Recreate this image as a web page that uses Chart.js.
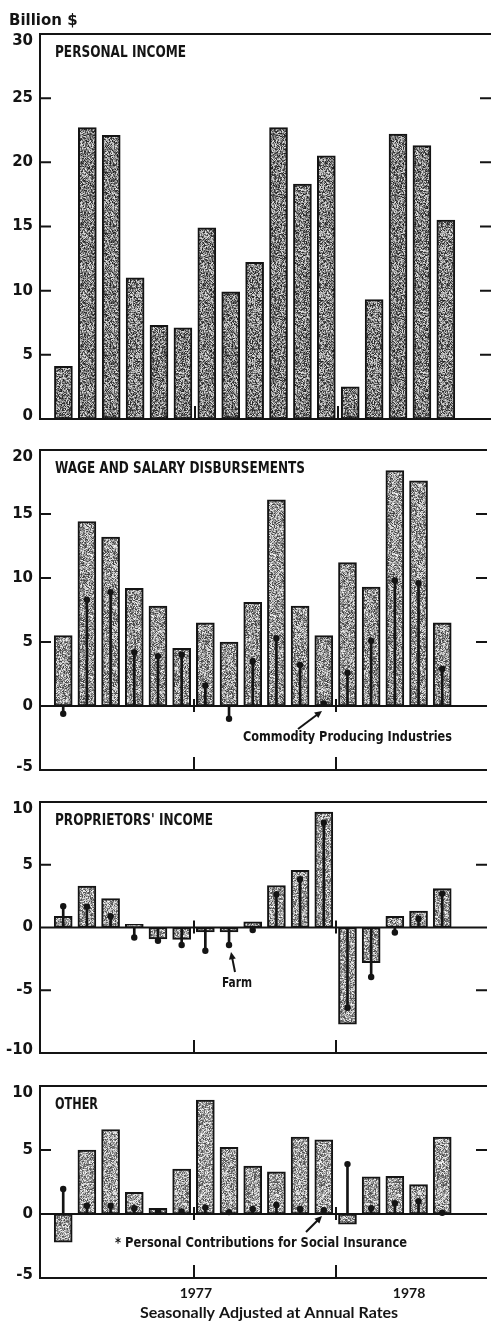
<!DOCTYPE html>
<html>
<head>
<meta charset="utf-8">
<script src="https://cdn.jsdelivr.net/npm/chart.js@4.4.1/dist/chart.umd.min.js"></script>
<style>
  html, body { margin: 0; padding: 0; background: #fff; }
  body { width: 491px; height: 1323px; position: relative; overflow: hidden; }
  canvas { position: absolute; left: 0; }
</style>
</head>
<body>
<canvas id="pi" width="491" height="430" style="top:0px"></canvas>
<canvas id="ws" width="491" height="350" style="top:430px"></canvas>
<canvas id="pr" width="491" height="283" style="top:780px"></canvas>
<canvas id="ot" width="491" height="260" style="top:1063px"></canvas>
<script>
// ---------- DATA (billion $, seasonally adjusted at annual rates) ----------
const personalIncome = [4.1, 22.7, 22.1, 11.0, 7.3, 7.1, 14.9, 9.9, 12.2, 22.7, 18.3, 20.5, 2.5, 9.3, 22.2, 21.3, 15.5];
const wageSalary = [5.5, 14.4, 13.2, 9.2, 7.8, 4.5, 6.5, 5.0, 8.1, 16.1, 7.8, 5.5, 11.2, 9.3, 18.4, 17.6, 6.5];
const commodityProducing = [-0.6, 8.3, 8.9, 4.2, 3.9, 4.0, 1.6, -1.0, 3.5, 5.3, 3.2, 0.2, 2.6, 5.1, 9.8, 9.6, 2.9];
const proprietorsIncome = [0.9, 3.3, 2.3, 0.25, -0.9, -0.95, -0.35, -0.35, 0.45, 3.35, 4.55, 9.2, -7.7, -2.8, 0.9, 1.3, 3.1];
const farm = [1.7, 1.65, 0.9, -0.8, -1.05, -1.4, -1.85, -1.4, -0.2, 2.65, 3.85, 8.35, -6.4, -3.95, -0.4, 0.7, 2.7];
const otherIncome = [-2.2, 5.0, 6.6, 1.7, 0.45, 3.5, 8.9, 5.2, 3.75, 3.3, 6.0, 5.8, -0.8, 2.9, 2.95, 2.3, 6.0];
const socialInsurance = [1.95, 0.65, 0.65, 0.45, 0.2, 0.2, 0.5, 0.15, 0.4, 0.7, 0.4, 0.3, 3.9, 0.45, 0.85, 1.0, 0.1];

const yearLabels = ['1977', '1978'];
const yearBreaks = [5.5, 11.5];      // period index where the year tick sits
const yearLabelAt = [5.6, 14.6];     // period index under which the year is printed

const X_MIN = -0.98;
const X_MAX = 17.89;
const INK = '#141414';
const NARROW = '"Liberation Sans Narrow", "DejaVu Sans Condensed", "DejaVu Sans", sans-serif';

// ---------- stipple texture for the bars ----------
function grain(mean, spread, seed) {
	const c = document.createElement('canvas');
	c.width = 61;
	c.height = 61;
	const g = c.getContext('2d');
	const img = g.createImageData(61, 61);
	let s = seed >>> 0;
	for (let i = 0; i < img.data.length; i += 4) {
		s = (Math.imul(s, 1103515245) + 12345) >>> 0;
		const r = ((s >>> 16) & 255) / 255 - 0.5;
		const v = Math.max(0, Math.min(255, mean + r * spread));
		img.data[i] = img.data[i + 1] = img.data[i + 2] = v;
		img.data[i + 3] = 255;
	}
	g.putImageData(img, 0, 0);
	return g.createPattern(c, 'repeat');
}

const toPoints = (arr) => arr.map((v, i) => ({ x: i, y: v }));

function arrow(ctx, x1, y1, x2, y2) {
	const ang = Math.atan2(y2 - y1, x2 - x1);
	ctx.beginPath();
	ctx.moveTo(x1, y1);
	ctx.lineTo(x2 - Math.cos(ang) * 5, y2 - Math.sin(ang) * 5);
	ctx.stroke();
	ctx.beginPath();
	ctx.moveTo(x2, y2);
	ctx.lineTo(x2 - Math.cos(ang - 0.45) * 8, y2 - Math.sin(ang - 0.45) * 8);
	ctx.lineTo(x2 - Math.cos(ang + 0.45) * 8, y2 - Math.sin(ang + 0.45) * 8);
	ctx.closePath();
	ctx.fill();
}

// ---------- frame, ticks, labels drawn around each panel ----------
function decor(p) {
	return {
		id: 'panelDecor',
		afterDatasetsDraw(chart) {
			const { ctx, chartArea: a, scales } = chart;
			const x = scales.x;
			const y = scales.y;
			const y0 = y.getPixelForValue(0);

			ctx.save();
			ctx.strokeStyle = INK;
			ctx.fillStyle = INK;
			ctx.lineWidth = 2;

			// frame: top, left, bottom and zero line
			ctx.beginPath();
			ctx.moveTo(a.left, a.top);
			ctx.lineTo(a.right, a.top);
			ctx.moveTo(a.left, a.top - 1);
			ctx.lineTo(a.left, a.bottom + 1);
			ctx.moveTo(a.left, a.bottom);
			ctx.lineTo(a.right, a.bottom);
			ctx.moveTo(a.left, y0);
			ctx.lineTo(a.right, y0);
			ctx.stroke();

			// y ticks (inside, both sides) and labels
			ctx.font = 'bold 15px "DejaVu Sans", sans-serif';
			ctx.textAlign = 'right';
			ctx.textBaseline = 'middle';
			for (let v = p.min; v <= p.max; v += 5) {
				const py = y.getPixelForValue(v);
				if (v !== p.min && v !== p.max && v !== 0) {
					ctx.beginPath();
					ctx.moveTo(a.left, py);
					ctx.lineTo(a.left + 11, py);
					ctx.moveTo(a.right - 11, py);
					ctx.lineTo(a.right, py);
					ctx.stroke();
				}
				let dy = 0;
				if (v === p.max) dy = 7;
				else if (v === p.min) dy = -3;
				ctx.fillText(v < 0 ? '-' + Math.abs(v) : String(v), 33, py + dy);
			}

			// year ticks on the zero line and the bottom edge
			yearBreaks.forEach((b) => {
				const px = Math.round(x.getPixelForValue(b));
				ctx.beginPath();
				if (p.min < 0) {
					ctx.moveTo(px, y0 - 7);
					ctx.lineTo(px, y0 + 6);
				}
				ctx.moveTo(px, a.bottom);
				ctx.lineTo(px, a.bottom - 13);
				ctx.stroke();
			});

			// panel title
			ctx.textAlign = 'left';
			ctx.font = 'bold 15px ' + NARROW;
			ctx.fillText(p.title, a.left + 15, a.top + 19, p.titleWidth);

			if (p.extra) p.extra(ctx, a, x, y);
			ctx.restore();
		},
	};
}

function makePanel(id, p) {
	const datasets = [
		{
			type: 'bar',
			data: toPoints(p.bars),
			backgroundColor: p.fill,
			borderColor: INK,
			borderWidth: 2,
			borderSkipped: false,
			barThickness: 18,
			grouped: false,
			order: 2,
		},
	];
	if (p.marks) {
		datasets.push({
			type: 'bar',
			data: toPoints(p.marks),
			backgroundColor: INK,
			borderWidth: 0,
			barThickness: 2,
			grouped: false,
			order: 1,
		});
		datasets.push({
			type: 'line',
			data: toPoints(p.marks),
			showLine: false,
			pointRadius: 3.2,
			pointBackgroundColor: INK,
			pointBorderWidth: 0,
			order: 0,
		});
	}
	new Chart(document.getElementById(id), {
		type: 'bar',
		data: { datasets },
		options: {
			responsive: false,
			animation: false,
			layout: { padding: p.padding },
			scales: {
				x: { type: 'linear', min: X_MIN, max: X_MAX, offset: false, display: false },
				y: { min: p.min, max: p.max, display: false },
			},
			plugins: { legend: { display: false }, tooltip: { enabled: false } },
		},
		plugins: [decor(p)],
	});
}

// ---------- PANELS ----------
makePanel('pi', {
	title: 'PERSONAL INCOME',
	titleWidth: 131,
	bars: personalIncome,
	fill: grain(128, 200, 7),
	min: 0,
	max: 30,
	padding: { top: 34, bottom: 11, left: 40, right: 0 },
	extra(ctx) {
		ctx.font = 'bold 15px "DejaVu Sans", sans-serif';
		ctx.textAlign = 'left';
		ctx.fillText('Billion $', 9, 21);
	},
});

makePanel('ws', {
	title: 'WAGE AND SALARY DISBURSEMENTS',
	titleWidth: 250,
	bars: wageSalary,
	marks: commodityProducing,
	fill: grain(150, 190, 11),
	min: -5,
	max: 20,
	padding: { top: 20, bottom: 10, left: 40, right: 0 },
	extra(ctx) {
		ctx.font = 'bold 14px ' + NARROW;
		ctx.textAlign = 'left';
		ctx.fillText('Commodity Producing Industries', 243, 307, 209);
		ctx.lineWidth = 2;
		arrow(ctx, 298, 299, 322, 281);
	},
});

makePanel('pr', {
	title: "PROPRIETORS' INCOME",
	titleWidth: 158,
	bars: proprietorsIncome,
	marks: farm,
	fill: grain(160, 180, 23),
	min: -10,
	max: 10,
	padding: { top: 22, bottom: 10, left: 40, right: 0 },
	extra(ctx) {
		ctx.font = 'bold 14px ' + NARROW;
		ctx.textAlign = 'center';
		ctx.fillText('Farm', 237, 203, 30);
		ctx.lineWidth = 2;
		arrow(ctx, 235, 192, 231, 172);
	},
});

makePanel('ot', {
	title: 'OTHER',
	titleWidth: 43,
	bars: otherIncome,
	marks: socialInsurance,
	fill: grain(160, 180, 31),
	min: -5,
	max: 10,
	padding: { top: 23, bottom: 45, left: 40, right: 0 },
	extra(ctx, a, x) {
		ctx.font = 'bold 14px ' + NARROW;
		ctx.textAlign = 'left';
		ctx.fillText('* Personal Contributions for Social Insurance', 115, 180, 292);
		ctx.lineWidth = 2;
		arrow(ctx, 306, 169, 322, 153);

		ctx.textAlign = 'center';
		ctx.font = 'bold 14px Lato, "DejaVu Sans", sans-serif';
		yearLabels.forEach((lab, i) => {
			ctx.fillText(lab, x.getPixelForValue(yearLabelAt[i]), 230, 34);
		});
		ctx.font = 'bold 16px Lato, "DejaVu Sans", sans-serif';
		ctx.fillText('Seasonally Adjusted at Annual Rates', 269, 250, 312);
	},
});
</script>
</body>
</html>
